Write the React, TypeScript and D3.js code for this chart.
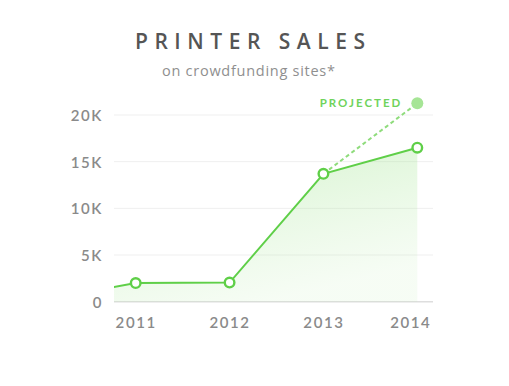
import React, { useRef, useEffect } from 'react';
import * as d3 from 'd3';

// data
const years = [2010, 2011, 2012, 2013, 2014];
const sales = [150, 2000, 2050, 13700, 16500];
const projectedYears = [2013, 2014];
const projectedSales = [13700, 21250];
const yTicks = [0, 5000, 10000, 15000, 20000];
const xTicks = [2011, 2012, 2013, 2014];

const title = 'PRINTER SALES';
const subtitle = 'on crowdfunding sites*';
const projectedLabel = 'PROJECTED';

const App: React.FC = () => {
  const ref = useRef<SVGSVGElement | null>(null);

  useEffect(() => {
    if (!ref.current) return;
    const svg = d3.select(ref.current);
    svg.selectAll('*').remove();

    const width = 509;
    const height = 386;
    const plotLeft = 114;
    const plotRight = 433;

    const green = '#5fcf48';
    const grey = '#8a8a8a';
    const font = 'Lato, "Open Sans", sans-serif';
    const titleFont = '"Open Sans", Lato, sans-serif';

    const x = d3.scaleLinear().domain([2011, 2014]).range([135.7, 417.3]);
    const y = d3.scaleLinear().domain([0, 20000]).range([301.7, 115]);

    const defs = svg.append('defs');
    defs.append('clipPath').attr('id', 'plot-clip')
      .append('rect')
      .attr('x', plotLeft).attr('y', 0)
      .attr('width', plotRight - plotLeft).attr('height', height);

    const grad = defs.append('linearGradient')
      .attr('id', 'area-grad')
      .attr('x1', 0).attr('y1', 0).attr('x2', 0.6).attr('y2', 1);
    grad.append('stop').attr('offset', '0%').attr('stop-color', '#8ee07a').attr('stop-opacity', 0.45);
    grad.append('stop').attr('offset', '100%').attr('stop-color', '#b6eaa8').attr('stop-opacity', 0.12);

    // title (stretched to the width seen in the reference)
    svg.append('text')
      .attr('x', 135).attr('y', 48.5)
      .attr('font-family', titleFont)
      .attr('font-size', 21)
      .attr('font-weight', 600)
      .attr('textLength', 230)
      .attr('lengthAdjust', 'spacing')
      .attr('fill', '#555')
      .text(title);

    svg.append('text')
      .attr('x', 162).attr('y', 76)
      .attr('font-family', titleFont)
      .attr('font-size', 14.5)
      .attr('textLength', 173)
      .attr('lengthAdjust', 'spacing')
      .attr('fill', '#8f8f8f')
      .text(subtitle);

    // gridlines
    svg.append('g')
      .selectAll('line')
      .data(yTicks)
      .join('line')
      .attr('x1', plotLeft).attr('x2', plotRight)
      .attr('y1', d => y(d)).attr('y2', d => y(d))
      .attr('stroke', d => d === 0 ? '#dedede' : '#efefef')
      .attr('stroke-width', d => d === 0 ? 1.5 : 1);

    // y labels
    const yAxis = svg.append('g')
      .attr('transform', `translate(${plotLeft - 11},0)`)
      .call(d3.axisLeft(y).tickValues(yTicks).tickSize(0).tickPadding(0)
        .tickFormat(d => (+d === 0 ? '0' : `${+d / 1000}K`)));
    yAxis.select('.domain').remove();
    yAxis.selectAll('text')
      .attr('font-family', font)
      .attr('font-size', 15)
      .attr('font-weight', 600)
      .attr('letter-spacing', 1.6)
      .attr('fill', grey)
      .attr('dy', '0.36em');

    // x labels
    const xAxis = svg.append('g')
      .attr('transform', 'translate(0,328)')
      .call(d3.axisBottom(x).tickValues(xTicks).tickSize(0).tickPadding(0)
        .tickFormat(d3.format('d')));
    xAxis.select('.domain').remove();
    xAxis.selectAll('text')
      .attr('font-family', font)
      .attr('font-size', 15)
      .attr('font-weight', 600)
      .attr('letter-spacing', 1.6)
      .attr('fill', grey)
      .attr('dy', 0)
      .attr('dx', d => (+d === 2014 ? -7 : 0));

    const pts = years.map((yr, i) => ({ yr, v: sales[i] }));
    const proj = projectedYears.map((yr, i) => ({ yr, v: projectedSales[i] }));

    const plot = svg.append('g').attr('clip-path', 'url(#plot-clip)');

    const area = d3.area<{ yr: number; v: number }>()
      .x(d => x(d.yr))
      .y0(y(0))
      .y1(d => y(d.v));
    plot.append('path')
      .datum(pts)
      .attr('fill', 'url(#area-grad)')
      .attr('d', area);

    // projected dashed line
    plot.append('path')
      .datum(proj)
      .attr('fill', 'none')
      .attr('stroke', '#8fdc7c')
      .attr('stroke-width', 2)
      .attr('stroke-dasharray', '4,3')
      .attr('d', d3.line<{ yr: number; v: number }>().x(d => x(d.yr)).y(d => y(d.v)));

    const line = d3.line<{ yr: number; v: number }>()
      .x(d => x(d.yr))
      .y(d => y(d.v));
    plot.append('path')
      .datum(pts)
      .attr('fill', 'none')
      .attr('stroke', green)
      .attr('stroke-width', 2)
      .attr('d', line);

    svg.append('circle')
      .attr('cx', x(proj[1].yr)).attr('cy', y(proj[1].v))
      .attr('r', 6)
      .attr('fill', '#a6e596');

    svg.append('g')
      .selectAll('circle')
      .data(pts.filter(d => xTicks.includes(d.yr)))
      .join('circle')
      .attr('cx', d => x(d.yr)).attr('cy', d => y(d.v))
      .attr('r', 4.8)
      .attr('fill', '#fff')
      .attr('stroke', green)
      .attr('stroke-width', 2.4);

    svg.append('text')
      .attr('x', x(proj[1].yr) - 15).attr('y', y(proj[1].v) + 4)
      .attr('text-anchor', 'end')
      .attr('font-family', font)
      .attr('font-size', 11.5)
      .attr('font-weight', 700)
      .attr('letter-spacing', 2)
      .attr('fill', '#6fd35c')
      .text(projectedLabel);

    svg.attr('width', width).attr('height', height);
  }, []);

  return (
    <svg
      ref={ref}
      width={509}
      height={386}
      style={{ position: 'absolute', left: 0, top: 0, background: '#fff' }}
    />
  );
};

export default App;
